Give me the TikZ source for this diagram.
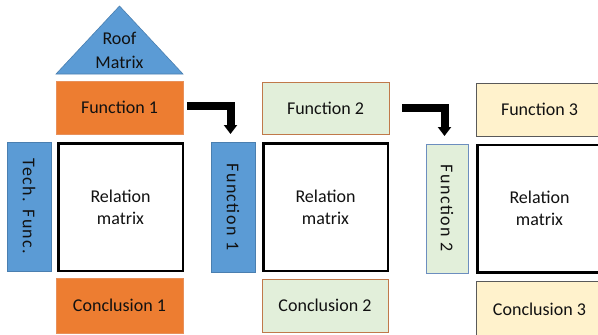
\documentclass[tikz,border=0pt]{standalone}
\usepackage{fontspec}
\setmainfont{Carlito}
\usetikzlibrary{arrows.meta}
\definecolor{fblue}{HTML}{5B9BD5}
\definecolor{bblue}{HTML}{4A7FB0}
\definecolor{forange}{HTML}{ED7D31}
\definecolor{borange}{HTML}{E8905A}
\definecolor{fgreen}{HTML}{E2EFDA}
\definecolor{bbrown}{HTML}{C0794A}
\definecolor{bgblue}{HTML}{6C8EBF}
\definecolor{fyellow}{HTML}{FFF2CC}
\definecolor{bgray}{HTML}{595959}
\definecolor{txt}{HTML}{111111}
\tikzset{
  basebox/.style={rectangle, inner sep=0pt, outer sep=0pt, line width=0.8pt, text=txt, align=center},
  orangebox/.style={basebox, fill=forange, draw=borange},
  bluebox/.style={basebox, fill=fblue, draw=bblue},
  greentop/.style={basebox, fill=fgreen, draw=bbrown},
  greenside/.style={basebox, fill=fgreen, draw=bgblue},
  yellowbox/.style={basebox, fill=fyellow, draw=bgray},
  relbox/.style={basebox, fill=white, draw=black, line width=2.5pt},
  vtext/.style={rotate=-90, text=txt, inner sep=0pt, font=\fontsize{18}{22}\selectfont\addfontfeature{LetterSpace=8}},
  bigarrow/.style={draw=black, line width=8pt, line join=miter, -{Triangle[width=13pt,length=9pt]}}
}
\begin{document}
\begin{tikzpicture}[x=1pt,y=-1pt,font=\fontsize{18}{22}\selectfont]
\useasboundingbox (0,0) rectangle (598,335);
\clip (0,0) rectangle (598,335);
% roof
\draw[fill=fblue, draw=bblue, line width=0.6pt] (56,74) -- (183,74) -- (119.5,6) -- cycle;
\node[text=txt, align=center, font=\fontsize{18}{24}\selectfont] (roof) at (119.5,50) {Roof\\Matrix};
% column 1
\node[orangebox, minimum width=127pt, minimum height=53pt] (f1top) at (119.5,107.5) {Function 1};
\node[relbox, minimum width=124.5pt, minimum height=127.5pt] (rel1) at (120.5,207) {Relation\\matrix};
\node[orangebox, minimum width=127pt, minimum height=55pt] (con1) at (119.5,305.5) {Conclusion 1};
\node[bluebox, minimum width=44pt, minimum height=129pt] (tech) at (29,206.5) {};
\node[vtext] (techtxt) at (tech.center) {Tech. Func.};
% column 2
\node[bluebox, minimum width=44pt, minimum height=130pt] (f1side) at (233,207) {};
\node[vtext] (f1sidetxt) at (f1side.center) {Function 1};
\node[greentop, minimum width=127pt, minimum height=52pt] (f2top) at (325.5,108) {Function 2};
\node[relbox, minimum width=124.5pt, minimum height=127.5pt] (rel2) at (325.5,207) {Relation\\matrix};
\node[greentop, minimum width=126pt, minimum height=53pt] (con2) at (325,305.5) {Conclusion 2};
% column 3
\node[greenside, minimum width=42pt, minimum height=129pt] (f2side) at (447,208.5) {};
\node[vtext] (f2sidetxt) at (f2side.center) {Function 2};
\node[yellowbox, minimum width=127pt, minimum height=53pt] (f3top) at (539.5,109.5) {Function 3};
\node[relbox, minimum width=124.5pt, minimum height=127.5pt] (rel3) at (539.5,208.5) {Relation\\matrix};
\node[yellowbox, minimum width=127pt, minimum height=57pt] (con3) at (539.5,309.5) {Conclusion 3};
% arrows
\draw[bigarrow] ([xshift=4pt,yshift=2pt]f1top.east) -| ([xshift=-2.5pt,yshift=8pt]f1side.north);
\draw[bigarrow] ([xshift=13pt,yshift=0.5pt]f2top.east) -| ([xshift=-2.5pt,yshift=8pt]f2side.north);
\end{tikzpicture}
\end{document}
